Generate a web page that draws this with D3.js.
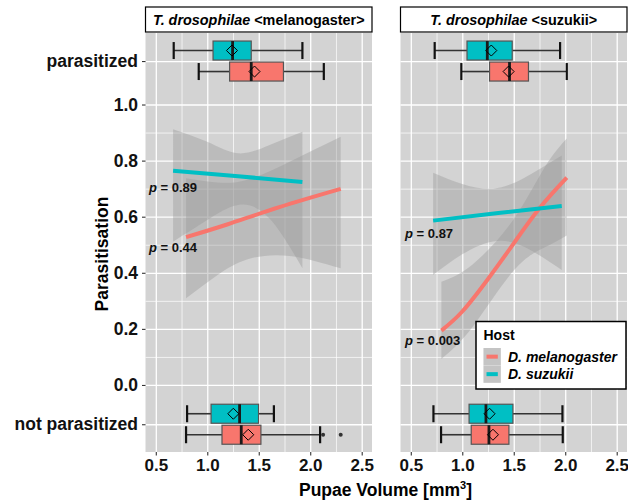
<!DOCTYPE html>
<html>
<head>
<meta charset="utf-8">
<script src="https://cdn.jsdelivr.net/npm/d3@7"></script>
<style>
  body { margin: 0; background: #fff; }
  text { font-family: "Liberation Sans", Arial, sans-serif; font-weight: bold; }
</style>
</head>
<body>
<div id="chart"></div>
<script>
// Parasitisation vs pupae volume, faceted by parasitoid strain

const facets = ["melanogaster", "suzukii"];
const hosts = ["D. melanogaster", "D. suzukii"];
const hostColors = ["#F8766D", "#00BFC4"];

const xTicks = [0.5, 1.0, 1.5, 2.0, 2.5];
const yTickValues = [-0.14, 0, 0.2, 0.4, 0.6, 0.8, 1.0, 1.155];
const yTickLabels = ["not parasitized", "0.0", "0.2", "0.4", "0.6", "0.8", "1.0", "parasitized"];

// box stats: facet, host, outcome value, lower whisker, q1, median, mean, q3, upper whisker
const boxStats = [
  ["melanogaster", "D. suzukii", 1.155, 0.674, 1.056, 1.246, 1.24, 1.427, 1.924],
  ["melanogaster", "D. melanogaster", 1.155, 0.917, 1.217, 1.427, 1.459, 1.74, 2.132],
  ["melanogaster", "D. suzukii", -0.14, 0.804, 1.037, 1.314, 1.253, 1.498, 1.647],
  ["melanogaster", "D. melanogaster", -0.14, 0.794, 1.143, 1.33, 1.398, 1.521, 2.096],
  ["suzukii", "D. suzukii", 1.155, 0.732, 1.046, 1.243, 1.282, 1.485, 1.95],
  ["suzukii", "D. melanogaster", 1.155, 0.991, 1.265, 1.459, 1.45, 1.643, 2.015],
  ["suzukii", "D. suzukii", -0.14, 0.72, 1.066, 1.23, 1.265, 1.492, 1.973],
  ["suzukii", "D. melanogaster", -0.14, 0.794, 1.087, 1.259, 1.298, 1.453, 1.976]
];

// outliers: facet, host, outcome value, volume
const outliers = [
  ["melanogaster", "D. melanogaster", -0.14, 2.125],
  ["melanogaster", "D. melanogaster", -0.14, 2.296]
];

// fitted logistic curves, [volume, parasitisation]
const fitMelMel = [[0.794, 0.527], [1.2, 0.573], [1.7, 0.634], [2.296, 0.699]];
const fitMelSuz = [[0.668, 0.764], [1.3, 0.744], [1.924, 0.724]];
const fitSuzMel = [[0.797, 0.194], [1.0, 0.262], [1.25, 0.378], [1.5, 0.505], [1.75, 0.63], [2.015, 0.739]];
const fitSuzSuz = [[0.717, 0.586], [1.35, 0.613], [1.966, 0.638]];

// confidence bands, [volume, lower, upper]
const bandMelMel = [[0.794, 0.309, 0.737], [1.1, 0.392, 0.722], [1.4, 0.449, 0.733], [1.8, 0.46, 0.796], [2.296, 0.416, 0.885]];
const bandMelSuz = [[0.668, 0.511, 0.912], [1.0, 0.588, 0.867], [1.3, 0.642, 0.826], [1.6, 0.595, 0.855], [1.924, 0.416, 0.903]];
const bandSuzMel = [[0.797, 0.093, 0.368], [1.1, 0.207, 0.43], [1.5, 0.408, 0.592], [1.8, 0.49, 0.776], [2.015, 0.533, 0.879]];
const bandSuzSuz = [[0.717, 0.392, 0.757], [1.0, 0.466, 0.717], [1.3, 0.512, 0.7], [1.6, 0.493, 0.738], [1.966, 0.41, 0.818]];

// p-value labels: facet, volume, parasitisation, value
const pLabels = [
  ["melanogaster", 0.434, 0.689, "0.89"],
  ["melanogaster", 0.434, 0.473, "0.44"],
  ["suzukii", 0.444, 0.524, "0.87"],
  ["suzukii", 0.444, 0.144, "0.003"]
];

const fits = {
  melanogaster: [[fitMelMel, bandMelMel, 0], [fitMelSuz, bandMelSuz, 1]],
  suzukii: [[fitSuzMel, bandSuzMel, 0], [fitSuzSuz, bandSuzSuz, 1]]
};

// Layout
const panelTop = 33, panelBottom = 452, panelWidth = 226.5;
const panelLeft = [145.5, 400.5];

const svg = d3.select("#chart").append("svg")
  .attr("width", 628)
  .attr("height", 504);

const y = d3.scaleLinear().domain([-0.239, 1.255]).range([panelBottom, panelTop]);

// dodge offsets for the two hosts
const dodge = d3.scaleBand().domain(["D. suzukii", "D. melanogaster"]).range([-21, 21]);

facets.forEach((facet, fi) => {
  const x = d3.scaleLinear().domain([0.4, 2.6]).range([panelLeft[fi], panelLeft[fi] + panelWidth]);
  const g = svg.append("g");

  // panel background
  g.append("rect")
    .attr("x", panelLeft[fi]).attr("y", panelTop)
    .attr("width", panelWidth).attr("height", panelBottom - panelTop)
    .attr("fill", "#D3D3D3");

  // minor grid
  const minorX = g.append("g")
    .attr("transform", `translate(0,${panelBottom})`)
    .call(d3.axisBottom(x).tickValues([0.75, 1.25, 1.75, 2.25]).tickSize(-(panelBottom - panelTop)).tickFormat(""));
  const minorY = g.append("g")
    .attr("transform", `translate(${panelLeft[fi]},0)`)
    .call(d3.axisLeft(y).tickValues([0.1, 0.3, 0.5, 0.7, 0.9]).tickSize(-panelWidth).tickFormat(""));
  [minorX, minorY].forEach(a => {
    a.select(".domain").remove();
    a.selectAll("line").attr("stroke", "#fff").attr("stroke-width", 0.7);
  });

  // major grid
  const majorX = g.append("g")
    .attr("transform", `translate(0,${panelBottom})`)
    .call(d3.axisBottom(x).tickValues(xTicks).tickSize(-(panelBottom - panelTop)).tickFormat(""));
  const majorY = g.append("g")
    .attr("transform", `translate(${panelLeft[fi]},0)`)
    .call(d3.axisLeft(y).tickValues(yTickValues).tickSize(-panelWidth).tickFormat(""));
  [majorX, majorY].forEach(a => {
    a.select(".domain").remove();
    a.selectAll("line").attr("stroke", "#fff").attr("stroke-width", 1.3);
  });

  // confidence bands
  const area = d3.area()
    .x(d => x(d[0])).y0(d => y(d[1])).y1(d => y(d[2]))
    .curve(d3.curveNatural);
  fits[facet].forEach(([fit, band]) => {
    g.append("path").datum(band)
      .attr("d", area)
      .attr("fill", "#999999")
      .attr("fill-opacity", 0.4);
  });

  // fitted curves
  const line = d3.line().x(d => x(d[0])).y(d => y(d[1])).curve(d3.curveNatural);
  fits[facet].forEach(([fit, band, hi]) => {
    g.append("path").datum(fit)
      .attr("d", line)
      .attr("fill", "none")
      .attr("stroke", hostColors[hi])
      .attr("stroke-width", 4);
  });

  // boxplots
  const boxes = boxStats.filter(d => d[0] === facet);
  boxes.forEach(d => {
    const cy = y(d[2]) + dodge(d[1]) + dodge.bandwidth() / 2;
    const color = hostColors[hosts.indexOf(d[1])];
    const bg = g.append("g");
    // whiskers
    bg.append("line")
      .attr("x1", x(d[3])).attr("x2", x(d[4]))
      .attr("y1", cy).attr("y2", cy)
      .attr("stroke", "#333").attr("stroke-width", 1.6);
    bg.append("line")
      .attr("x1", x(d[7])).attr("x2", x(d[8]))
      .attr("y1", cy).attr("y2", cy)
      .attr("stroke", "#333").attr("stroke-width", 1.6);
    // caps
    [d[3], d[8]].forEach(v => {
      bg.append("line")
        .attr("x1", x(v)).attr("x2", x(v))
        .attr("y1", cy - 8.5).attr("y2", cy + 8.5)
        .attr("stroke", "#111").attr("stroke-width", 2.2);
    });
    // box
    bg.append("rect")
      .attr("x", x(d[4])).attr("y", cy - 9.5)
      .attr("width", x(d[7]) - x(d[4])).attr("height", 19)
      .attr("fill", color)
      .attr("stroke", "#555").attr("stroke-width", 1.2);
    // median
    bg.append("line")
      .attr("x1", x(d[5])).attr("x2", x(d[5]))
      .attr("y1", cy - 9.5).attr("y2", cy + 9.5)
      .attr("stroke", "#1a1a1a").attr("stroke-width", 2.8);
    // mean diamond
    const mx = x(d[6]);
    bg.append("path")
      .attr("d", `M${mx},${cy - 5.5}L${mx + 5.5},${cy}L${mx},${cy + 5.5}L${mx - 5.5},${cy}Z`)
      .attr("fill", "none")
      .attr("stroke", "#000").attr("stroke-width", 1);
  });

  // outliers
  outliers.filter(d => d[0] === facet).forEach(d => {
    g.append("circle")
      .attr("cx", x(d[3]))
      .attr("cy", y(d[2]) + dodge(d[1]) + dodge.bandwidth() / 2)
      .attr("r", 2)
      .attr("fill", "#333");
  });

  // p-value labels
  pLabels.filter(d => d[0] === facet).forEach(d => {
    const t = g.append("text")
      .attr("x", x(d[1])).attr("y", y(d[2]))
      .style("font-size", "13px")
      .attr("fill", "#111");
    t.append("tspan").style("font-style", "italic").text("p");
    t.append("tspan").text(" = " + d[3]);
  });

  // x axis
  const xAxis = g.append("g")
    .attr("transform", `translate(0,${panelBottom})`)
    .call(d3.axisBottom(x).tickValues(xTicks).tickSize(3.5).tickPadding(3).tickFormat(d3.format(".1f")));
  xAxis.select(".domain").remove();
  xAxis.selectAll("line").attr("stroke", "#333").attr("stroke-width", 1.1);
  xAxis.selectAll("text")
    .style("font-size", "17px")
    .style("font-family", "'Liberation Sans', Arial, sans-serif")
    .style("font-weight", "bold")
    .attr("fill", "#111");

  // facet strip
  svg.append("rect")
    .attr("x", panelLeft[fi]).attr("y", 7)
    .attr("width", panelWidth).attr("height", 25)
    .attr("fill", "#fff")
    .attr("stroke", "#000").attr("stroke-width", 1.2);
  const st = svg.append("text")
    .attr("x", panelLeft[fi] + panelWidth / 2).attr("y", 24.5)
    .attr("text-anchor", "middle")
    .style("font-size", "14.4px")
    .attr("fill", "#000");
  st.append("tspan").style("font-style", "italic").text("T. drosophilae");
  st.append("tspan").text(" <" + facet + ">");
});

// y axis (left panel only)
const yAxis = svg.append("g")
  .attr("transform", `translate(${panelLeft[0]},0)`)
  .call(d3.axisLeft(y).tickValues(yTickValues).tickSize(3.5).tickPadding(4)
    .tickFormat((d, i) => yTickLabels[i]));
yAxis.select(".domain").remove();
yAxis.selectAll("line").attr("stroke", "#333").attr("stroke-width", 1.1);
yAxis.selectAll("text")
  .style("font-size", "17.5px")
  .style("font-family", "'Liberation Sans', Arial, sans-serif")
  .style("font-weight", "bold")
  .attr("fill", "#111");

// axis titles
svg.append("text")
  .attr("transform", "translate(108,254) rotate(-90)")
  .attr("text-anchor", "middle")
  .style("font-size", "17.5px")
  .attr("fill", "#000")
  .text("Parasitisation");

const xt = svg.append("text")
  .attr("x", 385.5).attr("y", 496)
  .attr("text-anchor", "middle")
  .style("font-size", "17.5px")
  .attr("fill", "#000");
xt.append("tspan").text("Pupae Volume [mm");
xt.append("tspan").attr("dy", -7).style("font-size", "11px").text("3");
xt.append("tspan").attr("dy", 7).text("]");

// legend
const legend = svg.append("g").attr("transform", "translate(476,321.5)");
legend.append("rect")
  .attr("width", 150).attr("height", 67.5)
  .attr("fill", "#fff")
  .attr("stroke", "#000").attr("stroke-width", 1.5);
legend.append("text")
  .attr("x", 7.5).attr("y", 18.5)
  .style("font-size", "14px")
  .attr("fill", "#000")
  .text("Host");
hosts.forEach((h, i) => {
  const row = legend.append("g").attr("transform", `translate(7.5,${26.5 + i * 17.5})`);
  row.append("rect").attr("width", 17.3).attr("height", 17.3).attr("fill", "#D3D3D3");
  row.append("rect").attr("width", 17.3).attr("height", 17.3).attr("fill", "#999999").attr("fill-opacity", 0.25);
  row.append("line")
    .attr("x1", 3).attr("x2", 14.3)
    .attr("y1", 8.65).attr("y2", 8.65)
    .attr("stroke", hostColors[i]).attr("stroke-width", 4);
  row.append("text")
    .attr("x", 24.5).attr("y", 13.5)
    .style("font-size", "14px")
    .style("font-style", "italic")
    .attr("fill", "#000")
    .text(h);
});
</script>
</body>
</html>
